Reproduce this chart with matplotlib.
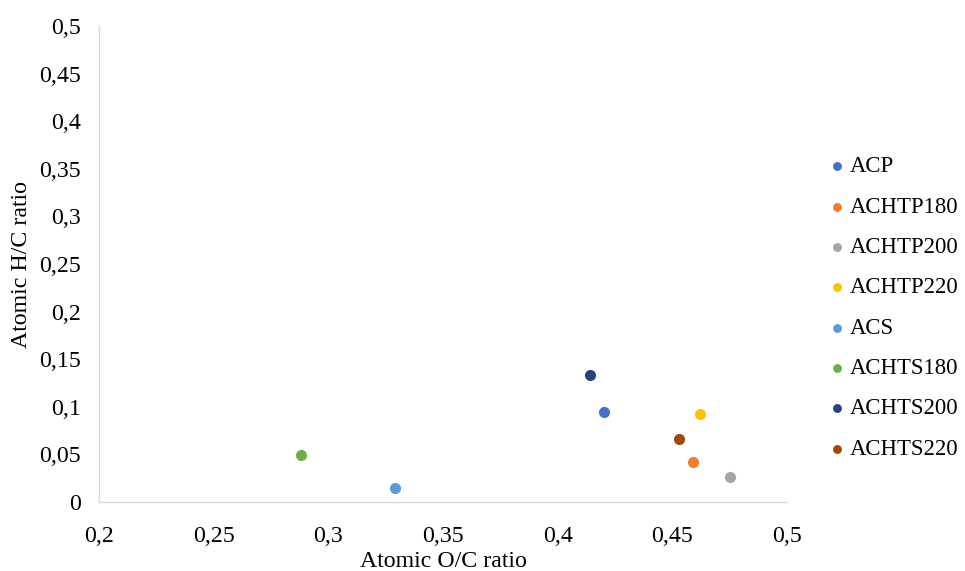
import matplotlib
matplotlib.use("Agg")
import matplotlib.pyplot as plt
from matplotlib.ticker import FuncFormatter, MultipleLocator

samples = ["ACP", "ACHTP180", "ACHTP200", "ACHTP220", "ACS", "ACHTS180", "ACHTS200", "ACHTS220"]
o_c_ratio = [0.420, 0.459, 0.475, 0.462, 0.329, 0.288, 0.414, 0.453]
h_c_ratio = [0.095, 0.042, 0.026, 0.092, 0.015, 0.049, 0.133, 0.066]
colors = ["#4472C4", "#ED7D31", "#A5A5A5", "#FFC000", "#5B9BD5", "#70AD47", "#264478", "#9E480E"]

plt.rcParams['font.family'] = ['Liberation Serif', 'DejaVu Serif']

fig = plt.figure(figsize=(9.65, 5.71), dpi=100)
ax = fig.add_axes([0.1026, 0.1208, 0.7129, 0.8337])

for name, x, y, c in zip(samples, o_c_ratio, h_c_ratio, colors):
    ax.scatter(x, y, s=64, color=c, label=name, zorder=3, linewidths=0)

def comma_fmt(v, pos):
    s = f"{v:.2f}".rstrip("0").rstrip(".")
    return s.replace(".", ",")

ax.set_xlim(0.2, 0.5)
ax.set_ylim(0, 0.5)
ax.xaxis.set_major_locator(MultipleLocator(0.05))
ax.yaxis.set_major_locator(MultipleLocator(0.05))
ax.xaxis.set_major_formatter(FuncFormatter(comma_fmt))
ax.yaxis.set_major_formatter(FuncFormatter(comma_fmt))
ax.tick_params(axis='both', length=0, labelsize=17.2)
ax.tick_params(axis='y', pad=13)
ax.tick_params(axis='x', pad=17)

for side in ["top", "right"]:
    ax.spines[side].set_visible(False)
for side in ["left", "bottom"]:
    ax.spines[side].set_color("#D9D9D9")
    ax.spines[side].set_linewidth(1.0)

ax.set_xlabel("Atomic O/C ratio", fontsize=17.2, labelpad=3)
ax.set_ylabel("Atomic H/C ratio", fontsize=17.2, labelpad=5)

leg = ax.legend(loc="center left", bbox_to_anchor=(0.856, 0.4606), bbox_transform=fig.transFigure,
                frameon=False, fontsize=16.4, markerscale=0.8, handletextpad=0.05,
                labelspacing=0.85, handlelength=1.0, borderpad=0, borderaxespad=0)

fig.savefig("out.png", dpi=100)
